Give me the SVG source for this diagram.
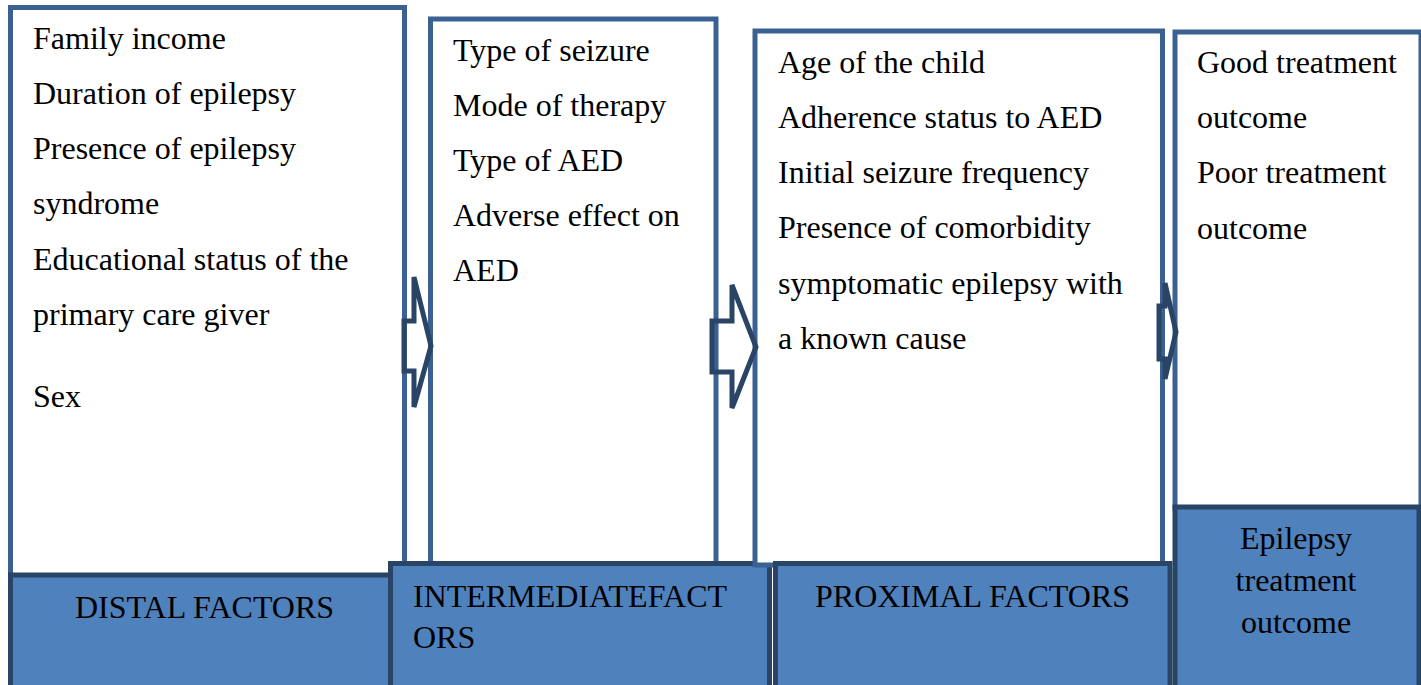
<svg xmlns="http://www.w3.org/2000/svg" width="1421" height="685" viewBox="0 0 1421 685">
<style>
.box{fill:#fff;stroke:#3a6191;stroke-width:5}
.bar{fill:#4f81bd;stroke:#2a4466;stroke-width:5}
.arr{fill:none;stroke:#2a4466;stroke-width:5;stroke-linejoin:miter}
text{font-family:"Liberation Serif","Times New Roman",serif;font-size:32px;fill:#000}
.c{text-anchor:middle}
</style>
<rect width="1421" height="685" fill="#fff"/>
<g id="distal">
<rect class="box" x="10.5" y="7.5" width="394" height="570"/>
<rect class="bar" x="10.5" y="575" width="380" height="113"/>
<text x="33" y="49">Family income</text>
<text x="33" y="104">Duration of epilepsy</text>
<text x="33" y="159">Presence of epilepsy</text>
<text x="33" y="214">syndrome</text>
<text x="33" y="270">Educational status of the</text>
<text x="33" y="325">primary care giver</text>
<text x="33" y="407">Sex</text>
<text x="75" y="618">DISTAL FACTORS</text>
</g>
<g id="intermediate">
<rect class="box" x="430.5" y="19" width="285.5" height="546"/>
<rect class="bar" x="390.5" y="563.5" width="379" height="125"/>
<text x="453" y="61">Type of seizure</text>
<text x="453" y="116">Mode of therapy</text>
<text x="453" y="171">Type of AED</text>
<text x="453" y="226">Adverse effect on</text>
<text x="453" y="281">AED</text>
<text x="413" y="607">INTERMEDIATEFACT</text>
<text x="413" y="648">ORS</text>
</g>
<g id="proximal">
<rect class="box" x="755" y="31" width="407.5" height="534"/>
<rect class="bar" x="775.5" y="563.5" width="394.5" height="125"/>
<text x="778" y="73">Age of the child</text>
<text x="778" y="128">Adherence status to AED</text>
<text x="778" y="183">Initial seizure frequency</text>
<text x="778" y="238">Presence of comorbidity</text>
<text x="778" y="294">symptomatic epilepsy with</text>
<text x="778" y="349">a known cause</text>
<text x="815" y="607">PROXIMAL FACTORS</text>
</g>
<g id="outcome">
<rect class="box" x="1175" y="32" width="246" height="476"/>
<rect class="bar" x="1175" y="507" width="244" height="181"/>
<text x="1197" y="73">Good treatment</text>
<text x="1197" y="128">outcome</text>
<text x="1197" y="183">Poor treatment</text>
<text x="1197" y="239">outcome</text>
<text class="c" x="1296" y="549">Epilepsy</text>
<text class="c" x="1296" y="591">treatment</text>
<text class="c" x="1296" y="633">outcome</text>
</g>
<g id="connectors">
<path class="arr" d="M404,321 H414 V277 L431,346 L414,407 V371 H404 Z"/>
<path class="arr" d="M712,321 H732 V285 L756,347 L732,408 V372 H712 Z"/>
<path class="arr" d="M1159,306 H1165 V283 L1176,332 L1165,379 V359 H1159 Z"/>
</g>
</svg>
